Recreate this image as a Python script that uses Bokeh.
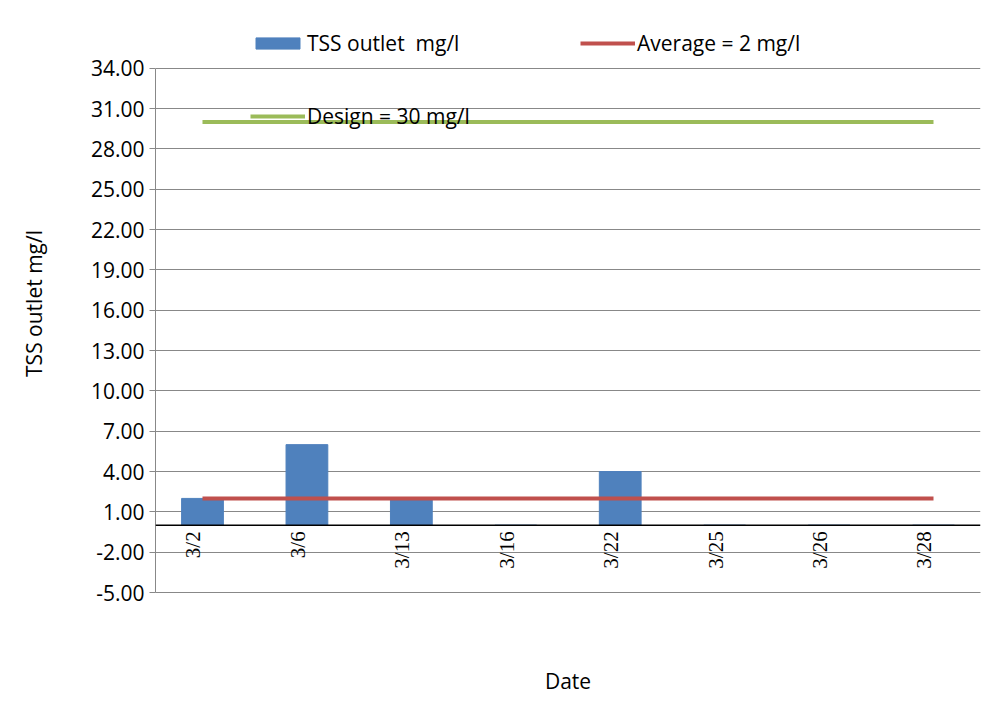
from bokeh.plotting import figure
from bokeh.models import ColumnDataSource, Legend, LegendItem, FixedTicker, NumeralTickFormatter, Span, LabelSet
from bokeh.embed import file_html
from bokeh.resources import INLINE

dates = ["3/2", "3/6", "3/13", "3/16", "3/22", "3/25", "3/26", "3/28"]
tss = [2, 6, 2, 0, 4, 0, 0, 0]
average = [2] * len(dates)
design = [30] * len(dates)
y_ticks = [-5, -2, 1, 4, 7, 10, 13, 16, 19, 22, 25, 28, 31, 34]

FONT = "Open Sans"
FS = "21px"
xs = list(range(len(dates)))
src = ColumnDataSource(data=dict(x=xs, tss=tss, avg=average, des=design, lab=dates,
                                 zero=[0] * len(dates)))

# the range goes above 34 to leave room for the legend inside the frame
p = figure(width=991, height=704, x_range=(-0.45, len(dates) - 0.55), y_range=(-5, 38),
           output_backend="svg", toolbar_location=None, tools="",
           min_border_left=155, min_border_right=11, min_border_top=14, min_border_bottom=112)
p.outline_line_color = None
p.border_fill_color = "white"

bars = p.vbar(x="x", top="tss", bottom=0, width=0.4, source=src, color="#4f81bd")
avg = p.line("x", "avg", source=src, color="#c0504d", line_width=4)
des = p.line("x", "des", source=src, color="#9bbb59", line_width=4)

p.add_layout(Span(location=0, dimension="width", line_color="black", line_width=1.5))
p.add_layout(LabelSet(x="x", y="zero", text="lab", source=src, angle=1.5708, y_offset=-6,
                      x_offset=-9, text_font=FONT, text_font_size=FS, text_baseline="middle",
                      text_align="right", text_color="black"))

p.yaxis.ticker = FixedTicker(ticks=y_ticks)
p.yaxis.bounds = (-5, 34)
p.yaxis.formatter = NumeralTickFormatter(format="0.00")
p.yaxis.major_label_text_font = FONT
p.yaxis.major_label_text_font_size = FS
p.yaxis.major_label_text_color = "black"
p.yaxis.axis_label = "TSS outlet mg/l"
p.yaxis.axis_label_text_font = FONT
p.yaxis.axis_label_text_font_size = FS
p.yaxis.axis_label_text_font_style = "normal"
p.yaxis.axis_label_text_color = "black"
p.yaxis.axis_label_standoff = 40
p.yaxis.axis_line_color = "#888888"
p.yaxis.major_tick_line_color = "#888888"
p.yaxis.major_tick_in = 0
p.yaxis.major_tick_out = 6
p.yaxis.minor_tick_line_color = None

p.xaxis.ticker = FixedTicker(ticks=[])
p.xaxis.axis_line_color = "#888888"
p.xaxis.axis_label = "Date"
p.xaxis.axis_label_text_font = FONT
p.xaxis.axis_label_text_font_size = FS
p.xaxis.axis_label_text_font_style = "normal"
p.xaxis.axis_label_text_color = "black"
p.xaxis.axis_label_standoff = 74
p.xaxis.major_label_text_font_size = "0px"

p.xgrid.grid_line_color = None
p.ygrid.ticker = FixedTicker(ticks=y_ticks)
p.ygrid.grid_line_color = "#888888"

common = dict(background_fill_alpha=0, border_line_color=None, glyph_width=55,
              glyph_height=14, label_standoff=2, padding=0, margin=0, label_text_font=FONT,
              label_text_font_size=FS, label_text_color="black")

def leg(label, r, x, y):
    p.add_layout(Legend(items=[LegendItem(label=label, renderers=[r])],
                        location=(x, y), **common), "center")

leg("TSS outlet  mg/l", bars, 95, 535)
leg("Average = 2 mg/l", avg, 425, 535)
leg("Design = 30 mg/l", des, 95, 462)

open("out.html", "w").write(file_html(p, INLINE))
